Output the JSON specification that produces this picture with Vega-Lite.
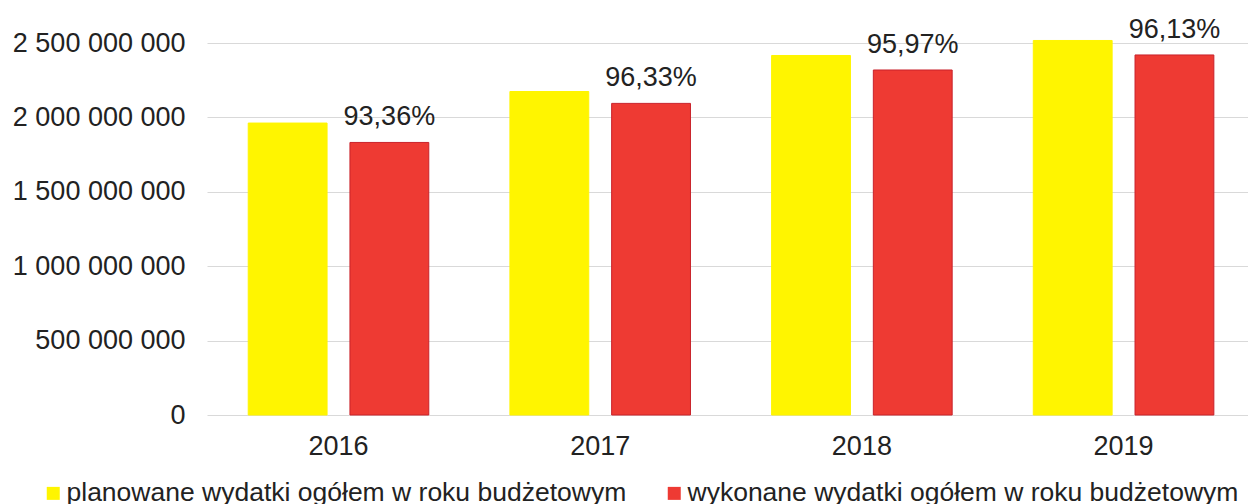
{
  "$schema": "https://vega.github.io/schema/vega-lite/v6.json",
  "autosize": {"type": "none"},
  "width": 1041,
  "height": 372,
  "padding": {"left": 207, "top": 43, "right": 0, "bottom": 89},
  "background": "white",
  "config": {
    "view": {"stroke": null},
    "font": "Liberation Sans",
    "locale": {"number": {"decimal": ",", "thousands": " ", "grouping": [3], "currency": ["", " zł"]}},
    "axis": {"labelFont": "Liberation Sans", "labelFontSize": 27, "labelColor": "#222222", "domain": false, "ticks": false, "title": null},
    "legend": {"labelFont": "Liberation Sans", "labelFontSize": 26.5, "labelColor": "#222222"}
  },
  "data": {
    "values": [
      {"rok": "2016", "seria": "planowane wydatki ogółem w roku budżetowym", "kwota": 1962000000, "etykieta": ""},
      {"rok": "2016", "seria": "wykonane wydatki ogółem w roku budżetowym", "kwota": 1831700000, "etykieta": "93,36%"},
      {"rok": "2017", "seria": "planowane wydatki ogółem w roku budżetowym", "kwota": 2174000000, "etykieta": ""},
      {"rok": "2017", "seria": "wykonane wydatki ogółem w roku budżetowym", "kwota": 2094200000, "etykieta": "96,33%"},
      {"rok": "2018", "seria": "planowane wydatki ogółem w roku budżetowym", "kwota": 2416000000, "etykieta": ""},
      {"rok": "2018", "seria": "wykonane wydatki ogółem w roku budżetowym", "kwota": 2318600000, "etykieta": "95,97%"},
      {"rok": "2019", "seria": "planowane wydatki ogółem w roku budżetowym", "kwota": 2517000000, "etykieta": ""},
      {"rok": "2019", "seria": "wykonane wydatki ogółem w roku budżetowym", "kwota": 2419600000, "etykieta": "96,13%"}
    ]
  },
  "encoding": {
    "x": {
      "field": "rok", "type": "nominal",
      "scale": {"paddingInner": 0.31, "paddingOuter": 0.144, "align": 0.547},
      "axis": {"labelAngle": 0, "labelPadding": 18, "grid": false}
    },
    "xOffset": {
      "field": "seria", "type": "nominal",
      "scale": {"paddingInner": 0.225, "paddingOuter": 0}
    },
    "y": {
      "field": "kwota", "type": "quantitative",
      "scale": {"domain": [0, 2500000000], "nice": false},
      "axis": {"values": [0, 500000000, 1000000000, 1500000000, 2000000000, 2500000000], "format": ",.0f", "labelPadding": 22, "grid": true, "gridColor": "#d9d9d9", "gridWidth": 1}
    }
  },
  "layer": [
    {
      "mark": {"type": "bar", "strokeWidth": 1},
      "encoding": {
        "color": {
          "field": "seria", "type": "nominal",
          "scale": {"domain": ["planowane wydatki ogółem w roku budżetowym", "wykonane wydatki ogółem w roku budżetowym"], "range": ["#FFF500", "#EE3A33"]},
          "legend": {
            "title": null, "orient": "none", "direction": "horizontal",
            "legendX": -167, "legendY": 437, "symbolType": "square", "symbolSize": 169,
            "labelLimit": 800, "labelOffset": 0, "columnPadding": 34, "symbolStrokeWidth": 0
          }
        },
        "stroke": {
          "field": "seria", "type": "nominal",
          "scale": {"domain": ["planowane wydatki ogółem w roku budżetowym", "wykonane wydatki ogółem w roku budżetowym"], "range": ["#FFF500", "#C9222B"]},
          "legend": null
        }
      }
    },
    {
      "transform": [{"filter": "datum.etykieta != ''"}],
      "mark": {"type": "text", "fontSize": 27, "font": "Liberation Sans", "color": "#222222", "baseline": "alphabetic", "dy": -17},
      "encoding": {
        "text": {"field": "etykieta", "type": "nominal"}
      }
    }
  ]
}
